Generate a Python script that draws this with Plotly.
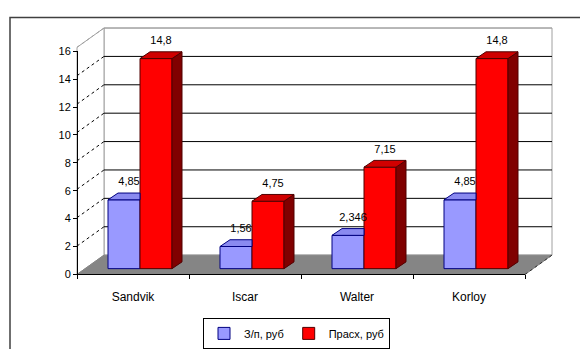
import plotly.graph_objects as go

# ---- data ----
categories = ["Sandvik", "Iscar", "Walter", "Korloy"]
series_names = ["З/п, руб", "Прасх, руб"]
salary = [4.85, 1.56, 2.346, 4.85]
expenses = [14.8, 4.75, 7.15, 14.8]
y_ticks = [0, 2, 4, 6, 8, 10, 12, 14, 16]

# ---- geometry (pixels) ----
W, H = 580, 349
PX_X = 112.0          # pixels per category
PX_Y = 14.7           # pixels per value unit
X0_PIX = 140.0        # centre of first bar group (bar plane)
BASE_PIX = 272.0      # value 0 in bar plane
FRONT_OFF = (-7, 6)   # bar plane -> front plane
BACK_OFF = (20, -14)  # bar plane -> back wall
DEPTH = (10, -7)      # bar depth
LABEL_LIFT = 5        # px extra gap for data labels
BAR_W = 0.2857

def dx(p):
    return p / PX_X

def dy(p):
    return -p / PX_Y

x_range = [(0 - X0_PIX) / PX_X, (W - X0_PIX) / PX_X]
y_range = [(BASE_PIX - H) / PX_Y, BASE_PIX / PX_Y]

blue_front, blue_top, blue_line = "#9999FF", "#8A8AF0", "#000080"
red_front, red_top, red_side, red_line = "#FF0000", "#D00000", "#800000", "#500000"

fig = go.Figure()

n = len(categories)
bdx, bdy = dx(DEPTH[0]), dy(DEPTH[1])

# front faces as bars
fig.add_trace(go.Bar(x=list(range(n)), y=salary, name=series_names[0],
                     marker=dict(color=blue_front, line=dict(color=blue_line, width=1)),
                     xaxis="x", yaxis="y"))
fig.add_trace(go.Bar(x=list(range(n)), y=expenses, name=series_names[1],
                     marker=dict(color=red_front, line=dict(color=red_line, width=1)),
                     xaxis="x", yaxis="y"))

# 3D top / side faces
for i in range(n):
    # blue (left) bar: top clipped at its right edge (hidden behind red)
    x0, x1, v = i - BAR_W, i, salary[i]
    fig.add_trace(go.Scatter(
        x=[x0, x1, x1, x0 + bdx, x0], y=[v, v, v + bdy, v + bdy, v],
        fill="toself", fillcolor=blue_top, mode="lines",
        line=dict(color=blue_line, width=1), showlegend=False, hoverinfo="skip"))
    # red (right) bar
    x0, x1, v = i, i + BAR_W, expenses[i]
    fig.add_trace(go.Scatter(
        x=[x1, x1, x1 + bdx, x1 + bdx, x1], y=[0, v, v + bdy, bdy, 0],
        fill="toself", fillcolor=red_side, mode="lines",
        line=dict(color=red_line, width=1), showlegend=False, hoverinfo="skip"))
    fig.add_trace(go.Scatter(
        x=[x0, x1, x1 + bdx, x0 + bdx, x0], y=[v, v, v + bdy, v + bdy, v],
        fill="toself", fillcolor=red_top, mode="lines",
        line=dict(color=red_line, width=1), showlegend=False, hoverinfo="skip"))

# data labels
def fmt(v):
    return str(v).replace(".", ",")

lift = dy(-LABEL_LIFT)
lab_x, lab_y, lab_t = [], [], []
for i in range(n):
    lab_x += [i - BAR_W / 2 + bdx / 2, i + BAR_W / 2 + bdx / 2]
    lab_y += [salary[i] + bdy + lift, expenses[i] + bdy + lift]
    lab_t += [fmt(salary[i]), fmt(expenses[i])]
fig.add_trace(go.Scatter(x=lab_x, y=lab_y, text=lab_t, mode="text",
                         textposition="top center",
                         textfont=dict(family="Liberation Sans, Arial", size=11, color="black"),
                         showlegend=False, hoverinfo="skip"))

# dummy trace for the front axes subplot
fig.add_trace(go.Scatter(x=categories, y=[None] * n, xaxis="x2", yaxis="y2",
                         mode="markers", showlegend=False, hoverinfo="skip"))

# ---- walls / floor / grid (shapes in data coords of the bar plane) ----
shapes = []
bkx, bky = dx(BACK_OFF[0]), dy(BACK_OFF[1])
frx, fry = dx(FRONT_OFF[0]), dy(FRONT_OFF[1])
xl, xr = -0.5, n - 0.5
vmax = y_ticks[-1]

# back wall
shapes.append(dict(type="rect", xref="x", yref="y", layer="below",
                   x0=xl + bkx, x1=xr + bkx, y0=bky, y1=vmax + bky,
                   fillcolor="white", line=dict(color="#A0A0A0", width=1)))
# side wall
shapes.append(dict(type="path", xref="x", yref="y", layer="below",
                   path=f"M{xl+frx},{fry} L{xl+frx},{vmax+fry} L{xl+bkx},{vmax+bky} L{xl+bkx},{bky} Z",
                   fillcolor="white", line=dict(color="#A0A0A0", width=1)))
# grid lines on back wall + diagonals on side wall
for t in y_ticks[1:]:
    col = "#A0A0A0" if t == vmax else "black"
    shapes.append(dict(type="line", xref="x", yref="y", layer="below",
                       x0=xl + bkx, x1=xr + bkx, y0=t + bky, y1=t + bky,
                       line=dict(color=col, width=1)))
    shapes.append(dict(type="line", xref="x", yref="y", layer="below",
                       x0=xl + frx, x1=xl + bkx, y0=t + fry, y1=t + bky,
                       line=dict(color=col, width=1, dash="dot")))
# floor
shapes.append(dict(type="path", xref="x", yref="y", layer="below",
                   path=f"M{xl+frx},{fry} L{xr+frx},{fry} L{xr+bkx},{bky} L{xl+bkx},{bky} Z",
                   fillcolor="#858585", line=dict(color="#858585", width=1)))
shapes.append(dict(type="line", xref="x", yref="y", layer="below",
                   x0=xr + frx, x1=xr + bkx, y0=fry, y1=bky,
                   line=dict(color="#303030", width=1, dash="dot")))
# outer chart frame
shapes.append(dict(type="rect", xref="paper", yref="paper",
                   x0=10 / W, x1=1.05, y0=-0.05, y1=1 - 12 / H,
                   line=dict(color="#404040", width=1.5)))

# front axes placement
front_left_pix = X0_PIX - PX_X / 2 + FRONT_OFF[0]
front_right_pix = front_left_pix + n * PX_X
front_base_pix = BASE_PIX + FRONT_OFF[1]
front_top_pix = front_base_pix - vmax * 14.45

axis_font = dict(family="Liberation Sans, Arial", size=11, color="black")
cat_font = dict(family="Liberation Sans, Arial", size=12, color="black")

fig.update_layout(
    width=W, height=H,
    margin=dict(l=0, r=0, t=0, b=0),
    paper_bgcolor="white", plot_bgcolor="rgba(0,0,0,0)",
    barmode="group", bargap=1 - 2 * BAR_W, bargroupgap=0,
    shapes=shapes,
    xaxis=dict(range=x_range, visible=False, domain=[0, 1]),
    yaxis=dict(range=y_range, visible=False, domain=[0, 1]),
    xaxis2=dict(type="category", categoryarray=categories, categoryorder="array",
                range=[-0.5, n - 0.5],
                domain=[front_left_pix / W, front_right_pix / W],
                anchor="free", position=1 - front_base_pix / H,
                showline=True, linecolor="black", linewidth=1,
                ticks="outside", ticklen=4, tickcolor="black", tickson="boundaries",
                ticklabelstandoff=11,
                showgrid=False, zeroline=False, tickfont=cat_font, fixedrange=True),
    yaxis2=dict(range=[0, vmax], tickvals=y_ticks,
                domain=[1 - front_base_pix / H, 1 - front_top_pix / H],
                anchor="free", position=front_left_pix / W,
                showline=True, linecolor="black", linewidth=1,
                ticks="outside", ticklen=4, tickcolor="black",
                showgrid=False, zeroline=False, tickfont=axis_font, fixedrange=True),
    showlegend=True,
    legend=dict(orientation="h", x=203 / W, y=1 - 323 / H, xanchor="left", yanchor="top",
                bordercolor="black", borderwidth=1, bgcolor="white",
                font=dict(family="Liberation Sans, Arial", size=11, color="black"),
                itemwidth=30, traceorder="normal"),
)

fig.write_html("out.html")
